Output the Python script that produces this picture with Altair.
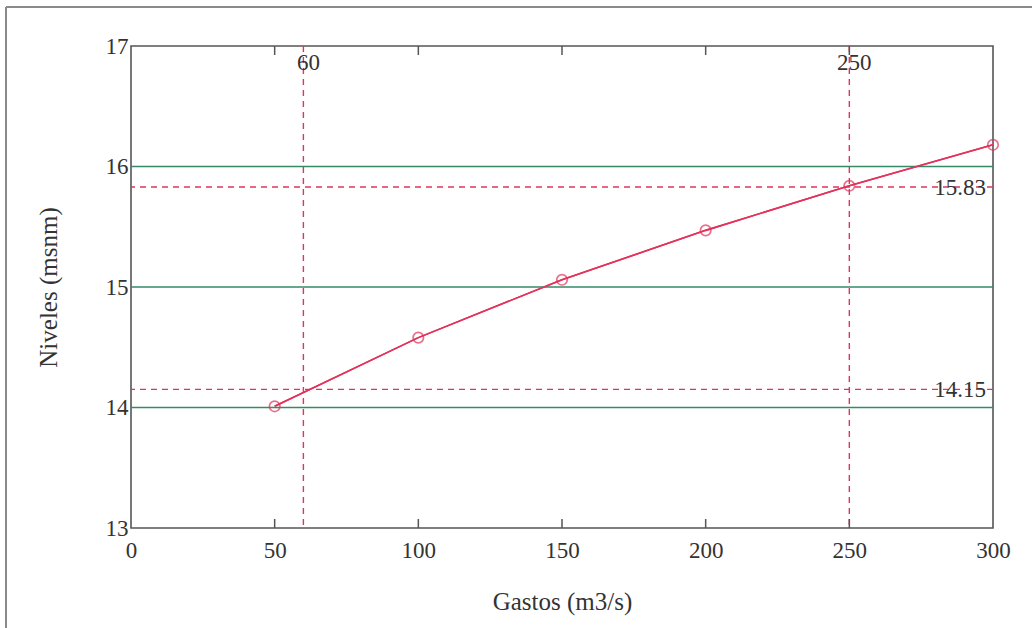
import altair as alt
import pandas as pd

# Data
gastos = [50, 100, 150, 200, 250, 300]
niveles = [14.01, 14.58, 15.06, 15.47, 15.84, 16.18]
grid_y = [14, 15, 16]
ref_x = [60, 250]
ref_y = [14.15, 15.83]
x_ticks = [0, 50, 100, 150, 200, 250, 300]
y_ticks = [13, 14, 15, 16, 17]

RED = "#e2335c"
GREEN = "#358a68"
AXC = "#555555"
FONT = "Liberation Serif"

W, H = 862, 482

xs = alt.Scale(domain=[x_ticks[0], x_ticks[-1]], nice=False, zero=False)
ys = alt.Scale(domain=[y_ticks[0], y_ticks[-1]], nice=False, zero=False)

df = pd.DataFrame({"x": gastos, "y": niveles})
df_grid = pd.DataFrame({"y": grid_y})
df_rx = pd.DataFrame({"x": ref_x, "label": [str(v) for v in ref_x]})
df_ry = pd.DataFrame({"y": ref_y, "x": [x_ticks[-1]] * len(ref_y),
                      "label": [f"{v:.2f}" for v in ref_y]})
df_ticks = pd.DataFrame({"x": x_ticks[1:-1]})

base_x = alt.X("x:Q", scale=xs, title="Gastos (m3/s)",
               axis=alt.Axis(values=x_ticks, grid=False, ticks=False, domain=False,
                             format="d", labelFlush=False, labelOverlap=False,
                             labelPadding=11, titlePadding=27, labelFont=FONT,
                             labelFontSize=23, titleFont=FONT, titleFontSize=25,
                             titleFontWeight="normal", labelColor="#333",
                             titleColor="#333"))
base_y = alt.Y("y:Q", scale=ys, title="Niveles (msnm)",
               axis=alt.Axis(values=y_ticks, grid=False, ticks=False, domain=False,
                             format="d", labelFlush=False, labelOverlap=False,
                             labelPadding=3, titlePadding=44, labelFont=FONT,
                             labelFontSize=23, titleFont=FONT, titleFontSize=25,
                             titleFontWeight="normal", labelColor="#333",
                             titleColor="#333"))

grid = alt.Chart(df_grid).mark_rule(color=GREEN, strokeWidth=1.6).encode(
    y=alt.Y("y:Q", scale=ys))

vref = alt.Chart(df_rx).mark_rule(color=RED, strokeWidth=1.4, strokeDash=[6, 5]).encode(
    x=alt.X("x:Q", scale=xs))
href = alt.Chart(df_ry).mark_rule(color=RED, strokeWidth=1.4, strokeDash=[6, 5]).encode(
    y=alt.Y("y:Q", scale=ys))

tick_bot = alt.Chart(df_ticks).mark_rule(color=AXC, strokeWidth=1.5).encode(
    x=alt.X("x:Q", scale=xs), y=alt.value(H), y2=alt.value(H - 9))
tick_top = alt.Chart(df_ticks).mark_rule(color=AXC, strokeWidth=1.5).encode(
    x=alt.X("x:Q", scale=xs), y=alt.value(0), y2=alt.value(9))

line = alt.Chart(df).mark_line(color=RED, strokeWidth=1.6).encode(x=base_x, y=base_y)
pts = alt.Chart(df).mark_point(shape="circle", color=RED, filled=False, size=110,
                               strokeWidth=1.7).encode(x=alt.X("x:Q", scale=xs),
                                                       y=alt.Y("y:Q", scale=ys))

lab_x = alt.Chart(df_rx).mark_text(font=FONT, fontSize=23, color="#333", align="center",
                                   baseline="middle", dx=5).encode(
    x=alt.X("x:Q", scale=xs), y=alt.value(17), text="label:N")
lab_y = alt.Chart(df_ry).mark_text(font=FONT, fontSize=23, color="#333", align="right",
                                   baseline="middle", dx=-7, dy=1).encode(
    x=alt.X("x:Q", scale=xs), y=alt.Y("y:Q", scale=ys), text="label:N")

frame_top = alt.Chart(df_grid.head(1)).mark_rule(color="#8a8a8a", strokeWidth=2).encode(
    x=alt.value(-125), x2=alt.value(W + 39), y=alt.value(-39))
frame_left = alt.Chart(df_grid.head(1)).mark_rule(color="#8a8a8a", strokeWidth=2).encode(
    x=alt.value(-125), y=alt.value(-39), y2=alt.value(H + 100))

chart = alt.layer(
    line, grid, vref, href, tick_bot, tick_top, line, pts, lab_x, lab_y,
    frame_top, frame_left
).properties(
    width=W, height=H,
    autosize=alt.AutoSizeParams(type="none"),
    padding={"left": 131, "top": 46, "right": 39, "bottom": 100},
    background="white",
).configure_view(stroke=AXC, strokeWidth=1.6)

chart.save("out.html", embed_options={"renderer": "svg", "actions": False})
